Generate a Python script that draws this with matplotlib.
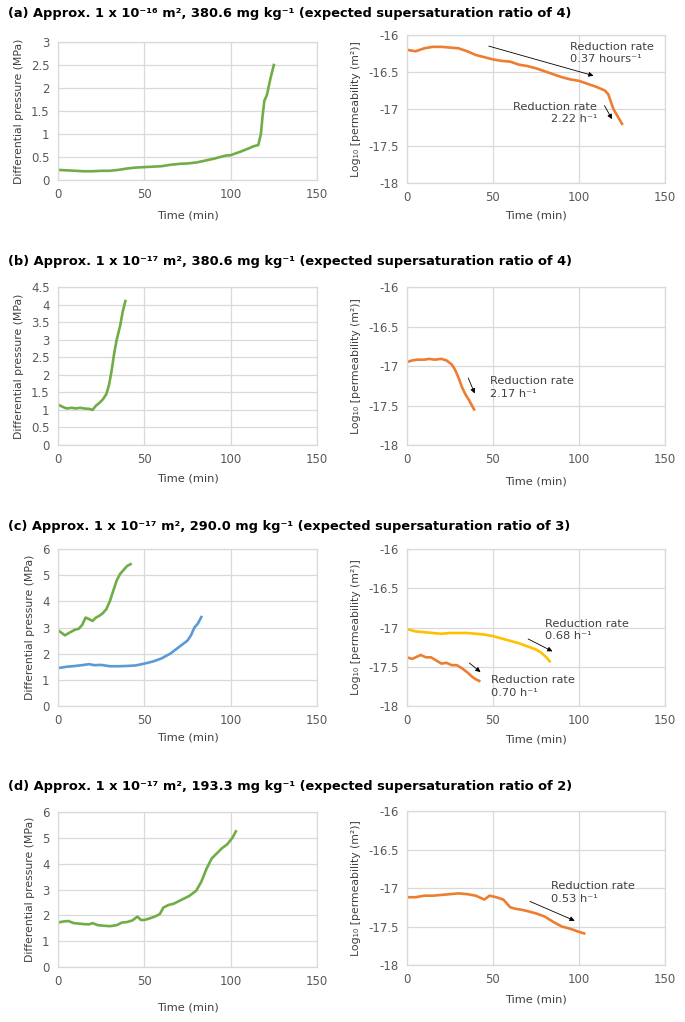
import matplotlib
matplotlib.use("Agg")
import matplotlib.pyplot as plt
from matplotlib.ticker import FuncFormatter

plt.rcParams['font.family'] = ['Liberation Sans Narrow', 'DejaVu Sans']

W, H = 685, 1022

# ---- data ----
# (a)
a_dp_t = [0, 5, 10, 15, 20, 25, 30, 35, 40, 45, 50, 55, 60, 65, 70, 75, 80, 85, 90, 95, 97, 100, 103, 106, 110, 113, 116, 117.5, 118.5, 119.5, 121, 123, 125]
a_dp = [0.22, 0.21, 0.2, 0.19, 0.19, 0.2, 0.2, 0.22, 0.25, 0.27, 0.28, 0.29, 0.3, 0.33, 0.35, 0.36, 0.38, 0.42, 0.46, 0.51, 0.53, 0.54, 0.58, 0.62, 0.68, 0.73, 0.76, 1.0, 1.4, 1.72, 1.85, 2.2, 2.5]
a_k_t = [0, 5, 10, 15, 20, 25, 30, 35, 40, 45, 50, 55, 60, 65, 70, 75, 80, 85, 90, 95, 100, 105, 110, 115, 117, 120, 123, 125]
a_k = [-16.2, -16.22, -16.18, -16.16, -16.16, -16.17, -16.18, -16.22, -16.27, -16.3, -16.33, -16.35, -16.36, -16.4, -16.42, -16.45, -16.49, -16.53, -16.57, -16.6, -16.62, -16.66, -16.7, -16.75, -16.8, -17.0, -17.12, -17.2]

# (b)
b_dp_t = [0, 3, 5, 8, 10, 13, 15, 18, 20, 22, 24, 26, 28, 29.5, 31, 32.5, 34, 36, 37.5, 39]
b_dp = [1.15, 1.08, 1.04, 1.06, 1.04, 1.06, 1.04, 1.03, 1.0, 1.12, 1.2, 1.3, 1.45, 1.7, 2.1, 2.6, 3.0, 3.4, 3.8, 4.1]
b_k_t = [0, 3, 6, 10, 13, 16, 20, 23, 26, 28, 30, 32, 34, 36, 39]
b_k = [-16.95, -16.93, -16.92, -16.92, -16.91, -16.92, -16.91, -16.93, -16.98, -17.05, -17.15, -17.27, -17.36, -17.43, -17.55]

# (c) two runs
c_dp1_t = [0, 2, 4, 6, 8, 10, 12, 14, 16, 18, 20, 22, 24, 26, 28, 30, 32, 34, 36, 38, 40, 42]
c_dp1 = [2.9, 2.8, 2.7, 2.78, 2.85, 2.92, 2.95, 3.1, 3.38, 3.32, 3.25, 3.38, 3.45, 3.55, 3.7, 4.0, 4.4, 4.8, 5.05, 5.2, 5.35, 5.42]
c_dp2_t = [0, 5, 10, 15, 18, 21, 25, 30, 35, 40, 45, 50, 55, 60, 65, 70, 75, 77, 79, 81, 83]
c_dp2 = [1.45, 1.5, 1.53, 1.57, 1.6, 1.56, 1.57, 1.52, 1.52, 1.53, 1.55, 1.62, 1.7, 1.82, 2.0, 2.25, 2.5, 2.7, 3.0, 3.15, 3.4]
c_k1_t = [0, 5, 10, 15, 20, 25, 30, 35, 40, 45, 50, 55, 60, 65, 70, 75, 78, 81, 83]
c_k1 = [-17.02, -17.05, -17.06, -17.07, -17.08, -17.07, -17.07, -17.07, -17.08, -17.09, -17.11, -17.14, -17.17, -17.2, -17.24, -17.28, -17.32, -17.38, -17.43]
c_k2_t = [0, 3, 6, 8, 11, 14, 17, 20, 23, 26, 29, 32, 35, 38, 40, 42]
c_k2 = [-17.38, -17.4, -17.37, -17.35, -17.38, -17.38, -17.42, -17.46, -17.45, -17.48, -17.48, -17.52, -17.57, -17.63, -17.66, -17.68]

# (d)
d_dp_t = [0, 3, 6, 9, 12, 15, 18, 20, 23, 26, 30, 34, 37, 40, 43, 46, 48, 50, 53, 56, 59, 61, 64, 67, 70, 73, 76, 80, 83, 86, 89, 92, 95, 98, 101, 103]
d_dp = [1.72, 1.76, 1.78, 1.7, 1.68, 1.66, 1.65, 1.7, 1.62, 1.6, 1.58, 1.62, 1.72, 1.74, 1.8, 1.95, 1.82, 1.82, 1.88, 1.95, 2.05, 2.3, 2.4, 2.45, 2.55, 2.65, 2.75, 2.95, 3.3, 3.8, 4.2, 4.4, 4.6, 4.75, 5.0, 5.25]
d_k_t = [0, 5, 10, 15, 20, 25, 30, 35, 40, 45, 48, 52, 56, 60, 63, 66, 70, 75, 80, 85, 90, 95, 100, 103]
d_k = [-17.12, -17.12, -17.1, -17.1, -17.09, -17.08, -17.07, -17.08, -17.1, -17.15, -17.1, -17.12, -17.15, -17.25, -17.27, -17.28, -17.3, -17.33, -17.37, -17.44, -17.5, -17.53, -17.57, -17.59]

titles = [
    "(a) Approx. 1 x 10\u207b\u00b9\u2076 m\u00b2, 380.6 mg kg\u207b\u00b9 (expected supersaturation ratio of 4)",
    "(b) Approx. 1 x 10\u207b\u00b9\u2077 m\u00b2, 380.6 mg kg\u207b\u00b9 (expected supersaturation ratio of 4)",
    "(c) Approx. 1 x 10\u207b\u00b9\u2077 m\u00b2, 290.0 mg kg\u207b\u00b9 (expected supersaturation ratio of 3)",
    "(d) Approx. 1 x 10\u207b\u00b9\u2077 m\u00b2, 193.3 mg kg\u207b\u00b9 (expected supersaturation ratio of 2)",
]
dp_max = [3, 4.5, 6, 6]
dp_step = [0.5, 0.5, 1, 1]

GREEN = "#70AD47"
ORANGE = "#ED7D31"
BLUE = "#5B9BD5"
YELLOW = "#FFC000"
GRID = "#D9D9D9"
TXT = "#595959"

# pixel layout: (title y, left top, left bottom, right top, right bottom, left xlabel y, right xlabel y)
rows = [
    (13, 42, 180, 35, 183, 215, 215),
    (261, 287, 445, 287, 445, 478, 482),
    (526, 549, 706, 549, 706, 737, 739),
    (786, 812, 967, 811, 965, 1008, 1000),
]
LX0, LX1 = 58, 317
RX0, RX1 = 407, 665

fig = plt.figure(figsize=(W / 100, H / 100), dpi=100)
fmt = FuncFormatter(lambda v, p: "%g" % v)


def style(ax, yticks):
    ax.set_xlim(0, 150)
    ax.set_xticks([0, 50, 100, 150])
    ax.set_yticks(yticks)
    ax.set_ylim(yticks[0], yticks[-1])
    ax.grid(True, color=GRID, lw=0.9)
    ax.set_axisbelow(True)
    for s in ax.spines.values():
        s.set_color(GRID)
        s.set_linewidth(0.9)
    ax.tick_params(length=0, labelsize=8.5, colors=TXT, pad=6)
    ax.xaxis.set_major_formatter(fmt)
    ax.yaxis.set_major_formatter(fmt)


def arrow(ax, x0, y0, x1, y1):
    ax.annotate("", xy=(x1, y1), xytext=(x0, y0),
                arrowprops=dict(arrowstyle="-|>", lw=0.6, color="black", mutation_scale=7))


def note(ax, x, y, s, ha="left"):
    ax.text(x, y, s, fontsize=8.2, color="#404040", ha=ha, va="center", linespacing=1.3,
            multialignment=ha)


left_axes, right_axes = [], []
for i, (ty, lt, lb, rt, rb, lxl, rxl) in enumerate(rows):
    fig.text(8 / W, 1 - ty / H, titles[i], fontsize=9.4, fontweight="bold",
             family="DejaVu Sans", va="center", ha="left")
    axl = fig.add_axes([LX0 / W, 1 - lb / H, (LX1 - LX0) / W, (lb - lt) / H])
    n = int(round(dp_max[i] / dp_step[i]))
    style(axl, [k * dp_step[i] for k in range(n + 1)])
    axl.set_ylabel("Differential pressure (MPa)", fontsize=7.8, color="#404040", labelpad=5)
    fig.text((LX0 + LX1) / 2 / W, 1 - lxl / H, "Time (min)", fontsize=8.2, color="#404040",
             ha="center", va="center")
    axr = fig.add_axes([RX0 / W, 1 - rb / H, (RX1 - RX0) / W, (rb - rt) / H])
    style(axr, [-18, -17.5, -17, -16.5, -16])
    axr.set_ylabel("Log\u2081\u2080 [permeability (m\u00b2)]", fontsize=7.8, color="#404040", labelpad=5)
    fig.text((RX0 + RX1) / 2 / W, 1 - rxl / H, "Time (min)", fontsize=8.2, color="#404040",
             ha="center", va="center")
    left_axes.append(axl)
    right_axes.append(axr)

LW = 1.9
# (a)
left_axes[0].plot(a_dp_t, a_dp, color=GREEN, lw=LW)
ax = right_axes[0]
ax.plot(a_k_t, a_k, color=ORANGE, lw=LW)
arrow(ax, 46, -16.14, 110, -16.56)
note(ax, 95, -16.24, "Reduction rate\n0.37 hours\u207b\u00b9")
arrow(ax, 114, -16.92, 120, -17.17)
note(ax, 110.5, -17.05, "Reduction rate\n2.22 h\u207b\u00b9", ha="right")

# (b)
left_axes[1].plot(b_dp_t, b_dp, color=GREEN, lw=LW)
ax = right_axes[1]
ax.plot(b_k_t, b_k, color=ORANGE, lw=LW)
arrow(ax, 35, -17.12, 40, -17.38)
note(ax, 48, -17.27, "Reduction rate\n2.17 h\u207b\u00b9")

# (c)
left_axes[2].plot(c_dp1_t, c_dp1, color=GREEN, lw=LW)
left_axes[2].plot(c_dp2_t, c_dp2, color=BLUE, lw=LW)
ax = right_axes[2]
ax.plot(c_k1_t, c_k1, color=YELLOW, lw=LW)
ax.plot(c_k2_t, c_k2, color=ORANGE, lw=LW)
arrow(ax, 69, -17.13, 86, -17.32)
note(ax, 80, -17.03, "Reduction rate\n0.68 h\u207b\u00b9")
arrow(ax, 35, -17.43, 44, -17.59)
note(ax, 49, -17.75, "Reduction rate\n0.70 h\u207b\u00b9")

# (d)
left_axes[3].plot(d_dp_t, d_dp, color=GREEN, lw=LW)
ax = right_axes[3]
ax.plot(d_k_t, d_k, color=ORANGE, lw=LW)
arrow(ax, 70, -17.16, 99, -17.44)
note(ax, 84, -17.06, "Reduction rate\n0.53 h\u207b\u00b9")

fig.savefig("out.png", dpi=100)
